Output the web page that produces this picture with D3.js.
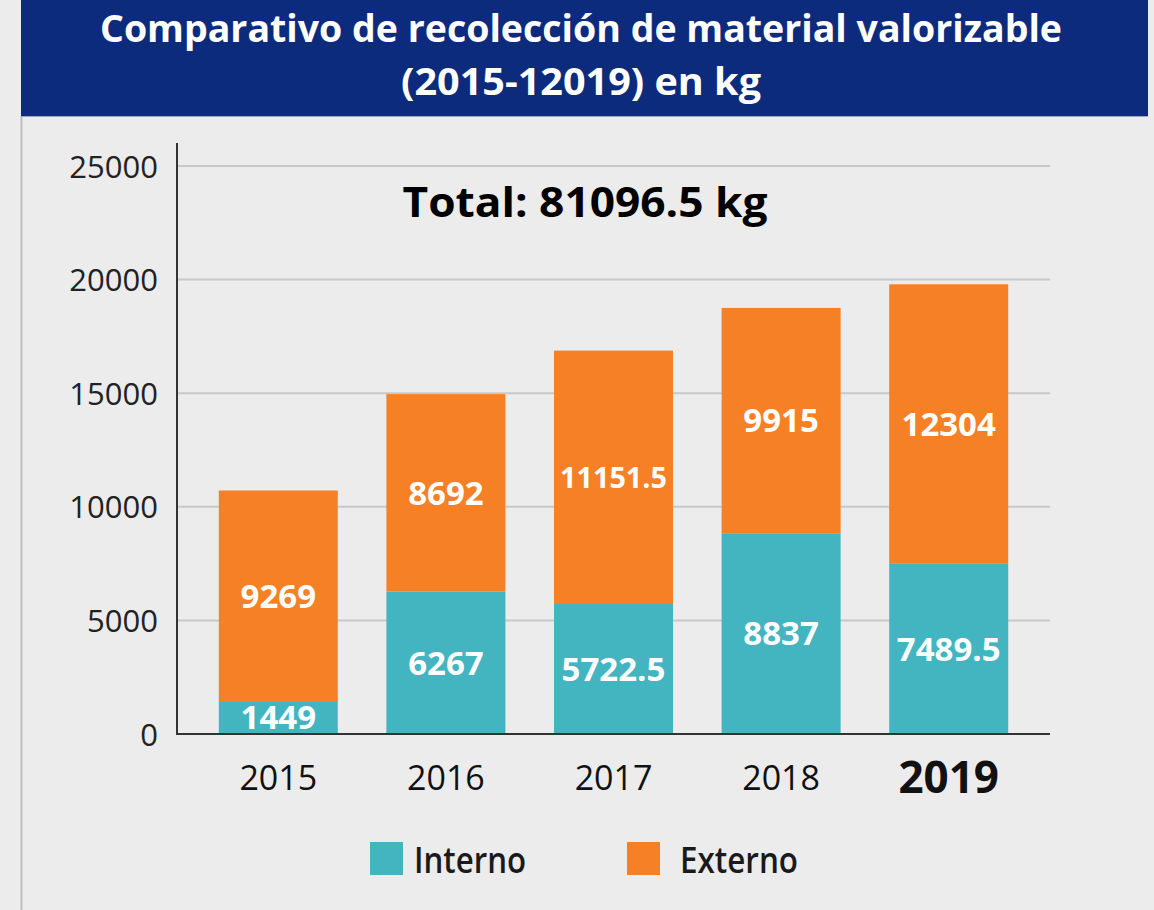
<!DOCTYPE html>
<html>
<head>
<meta charset="utf-8">
<script src="https://cdn.jsdelivr.net/npm/d3@7"></script>
<style>
  html, body { margin: 0; padding: 0; background: #ececec; }
  svg { display: block; }
</style>
</head>
<body>
<svg id="chart" width="1154" height="910"></svg>
<script>
const years = ["2015", "2016", "2017", "2018", "2019"];
const interno = [1449, 6267, 5722.5, 8837, 7489.5];
const externo = [9269, 8692, 11151.5, 9915, 12304];
const yTicks = [0, 5000, 10000, 15000, 20000, 25000];
const seriesNames = ["Interno", "Externo"];
const titleLines = ["Comparativo de recolección de material valorizable", "(2015-12019) en kg"];

const colors = { Interno: "#42b5c1", Externo: "#f58025" };
const FONT = "'Open Sans', 'Noto Sans', sans-serif";

const svg = d3.select("#chart");

// background
svg.append("rect").attr("width", 1154).attr("height", 910).attr("fill", "#ececec");
svg.append("line").attr("x1", 21.5).attr("x2", 21.5).attr("y1", 116).attr("y2", 910)
  .attr("stroke", "#bdbdbd").attr("stroke-width", 2);

// banner
svg.append("rect").attr("x", 21).attr("y", 0).attr("width", 1127).attr("height", 116).attr("fill", "#0d2b7d");
svg.append("line").attr("x1", 21).attr("x2", 1148).attr("y1", 116.5).attr("y2", 116.5)
  .attr("stroke", "#9aa6c4").attr("stroke-width", 1);
const titleY = [42, 95];
const titleW = [962, 360];
titleLines.forEach((t, i) => {
  svg.append("text").attr("x", 581).attr("y", titleY[i])
    .attr("text-anchor", "middle").attr("fill", "#ffffff")
    .attr("font-family", FONT).attr("font-weight", 700).attr("font-size", 38)
    .attr("textLength", titleW[i]).attr("lengthAdjust", "spacingAndGlyphs")
    .text(t);
});

// scales
const y = d3.scaleLinear().domain([0, 25000]).range([734, 166]);
const x = d3.scaleBand().domain(years).range([194.5, 1032.5]).paddingInner(0.29).paddingOuter(0.145);

const plotLeft = 177, plotRight = 1050;

// gridlines
svg.append("g").selectAll("line").data(yTicks.filter(d => d > 0)).join("line")
  .attr("x1", plotLeft).attr("x2", plotRight)
  .attr("y1", d => y(d)).attr("y2", d => y(d))
  .attr("stroke", "#c8c8c8").attr("stroke-width", 2);

// y axis
const yAxis = d3.axisLeft(y).tickValues(yTicks).tickSize(0).tickPadding(19).tickFormat(d3.format("d"));
const gy = svg.append("g").attr("transform", `translate(${plotLeft},0)`).call(yAxis);
gy.select(".domain").remove();
gy.selectAll("text").attr("font-family", FONT).attr("font-size", 31).attr("fill", "#222")
  .attr("dy", "0.36em");
svg.append("line").attr("x1", plotLeft).attr("x2", plotLeft).attr("y1", 143).attr("y2", 735)
  .attr("stroke", "#333").attr("stroke-width", 2);

// stacked data
const rows = years.map((yr, i) => ({ year: yr, Interno: interno[i], Externo: externo[i] }));
const stack = d3.stack().keys(seriesNames)(rows);

const layers = svg.append("g").selectAll("g").data(stack).join("g")
  .attr("fill", d => colors[d.key]);
layers.selectAll("rect").data(d => d).join("rect")
  .attr("x", d => x(d.data.year))
  .attr("width", x.bandwidth())
  .attr("y", d => y(d[1]))
  .attr("height", d => y(d[0]) - y(d[1]));

// value labels
const labG = svg.append("g");
stack.forEach(layer => {
  layer.forEach(d => {
    const v = d[1] - d[0];
    const t = labG.append("text")
      .attr("x", x(d.data.year) + x.bandwidth() / 2)
      .attr("y", (y(d[0]) + y(d[1])) / 2)
      .attr("dy", "0.36em")
      .attr("text-anchor", "middle").attr("fill", "#ffffff")
      .attr("font-family", FONT).attr("font-weight", 700).attr("font-size", 33)
      .text(String(v));
    const w = t.node().getComputedTextLength();
    const maxW = x.bandwidth() - 12;
    if (w > maxW) t.attr("font-size", 33 * maxW / w);
  });
});

// x axis baseline
svg.append("line").attr("x1", plotLeft).attr("x2", plotRight).attr("y1", y(0)).attr("y2", y(0))
  .attr("stroke", "#333").attr("stroke-width", 2);

// x labels
const xAxis = d3.axisBottom(x).tickSize(0).tickPadding(30);
const gx = svg.append("g").attr("transform", `translate(0,${y(0)})`).call(xAxis);
gx.select(".domain").remove();
gx.selectAll("text").attr("font-family", FONT).attr("fill", "#111")
  .attr("dy", null).attr("y", 56)
  .attr("font-size", d => d === years[years.length - 1] ? 44 : 34)
  .attr("font-weight", d => d === years[years.length - 1] ? 700 : 400)
  .attr("y", d => d === years[years.length - 1] ? 59 : 56);

// total annotation
const total = d3.sum(interno) + d3.sum(externo);
svg.append("text").attr("x", 585).attr("y", 217).attr("text-anchor", "middle")
  .attr("font-family", FONT).attr("font-weight", 700).attr("font-size", 42).attr("fill", "#000")
  .attr("textLength", 365).attr("lengthAdjust", "spacingAndGlyphs")
  .text(`Total: ${total} kg`);

// legend
const legendX = [370, 627];
const legendW = [112, 118];
seriesNames.forEach((s, i) => {
  const g = svg.append("g").attr("transform", `translate(${legendX[i]},842)`);
  g.append("rect").attr("width", 33).attr("height", 33).attr("fill", colors[s]);
  g.append("text").attr("x", 44 + (i === 1 ? 9 : 0)).attr("y", 31)
    .attr("font-family", FONT).attr("font-weight", 600).attr("font-size", 36).attr("fill", "#1a1a1a")
    .attr("textLength", legendW[i]).attr("lengthAdjust", "spacingAndGlyphs")
    .text(s);
});
</script>
</body>
</html>
